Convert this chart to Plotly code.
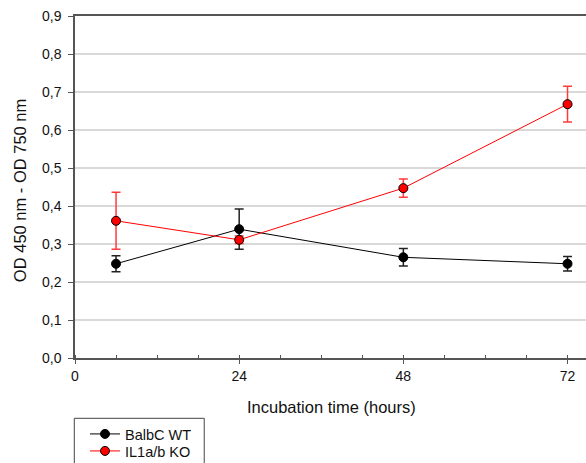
import plotly.graph_objects as go

hours = [6, 24, 48, 72]
wt_mean = [0.248, 0.339, 0.265, 0.248]
wt_err = [0.021, 0.053, 0.023, 0.019]
ko_mean = [0.361, 0.311, 0.447, 0.668]
ko_err = [0.075, 0.010, 0.024, 0.047]

x_ticks = [0, 24, 48, 72]
y_ticks = [0.0, 0.1, 0.2, 0.3, 0.4, 0.5, 0.6, 0.7, 0.8, 0.9]
x_title = "Incubation time (hours)"
y_title = "OD 450 nm - OD 750 nm"

fig = go.Figure()
fig.add_trace(go.Scatter(
    x=hours, y=wt_mean, name="BalbC WT", mode="lines+markers", legend="legend",
    line=dict(color="#000000", width=1),
    marker=dict(color="#000000", size=9, line=dict(color="#000000", width=1)),
    error_y=dict(type="data", array=wt_err, visible=True, color="#222222", thickness=1.5, width=4.5),
))
fig.add_trace(go.Scatter(
    x=hours, y=ko_mean, name="IL1a/b KO", mode="lines+markers", legend="legend2",
    line=dict(color="#ff0000", width=1),
    marker=dict(color="#ff0000", size=9, line=dict(color="#000000", width=1)),
    error_y=dict(type="data", array=ko_err, visible=True, color="#ff3b3b", thickness=1.5, width=4.5),
))

W, H = 586, 463
L, T, B, R = 74.7, 15.7, 105.3, 0
pw = W - L - R
ph = H - T - B

leg_common = dict(
    xref="container", yref="container", xanchor="left", yanchor="middle",
    bgcolor="rgba(0,0,0,0)", borderwidth=0,
    font=dict(size=14.5, color="#111111"), itemwidth=30,
)

fig.update_layout(
    width=W, height=H,
    margin=dict(l=L, r=R, t=T, b=B, pad=0, autoexpand=False),
    paper_bgcolor="white", plot_bgcolor="white",
    separators=",.",
    font=dict(family="Liberation Sans, Arial, sans-serif", size=14, color="#111111"),
    showlegend=True,
    legend=dict(x=85 / W, y=1 - 434 / H, **leg_common),
    legend2=dict(x=85 / W, y=1 - 451 / H, **leg_common),
    xaxis=dict(
        range=[0, 74.7], tickvals=x_ticks, ticktext=[str(v) for v in x_ticks],
        showgrid=False, zeroline=False, automargin=False,
        showline=True, linecolor="#555555", linewidth=1.5, mirror=True,
        ticks="outside", ticklen=4, tickcolor="#555555", tickwidth=1.2,
        minor=dict(dtick=6, tick0=0, ticks="inside", ticklen=3, tickcolor="#555555", tickwidth=1.2, showgrid=False),
        tickfont=dict(size=14),
    ),
    yaxis=dict(
        range=[0, 0.9], tickvals=y_ticks, tickformat=".1f",
        showgrid=True, gridcolor="#d9d9d9", gridwidth=1.5, zeroline=False, automargin=False,
        showline=True, linecolor="#555555", linewidth=1.5,
        ticks="outside", ticklen=5, tickcolor="#555555", tickwidth=1.2,
        ticklabelstandoff=4,
        tickfont=dict(size=14),
    ),
    annotations=[
        dict(text=x_title, xref="paper", yref="paper",
             x=(331.5 - L) / pw, y=(357.7 - 406.7) / ph, xanchor="center", yanchor="middle",
             showarrow=False, font=dict(size=16.5, color="#111111")),
        dict(text=y_title, xref="paper", yref="paper", textangle=-90,
             x=(19.5 - L) / pw, y=(357.7 - 190) / ph, xanchor="center", yanchor="middle",
             showarrow=False, font=dict(size=16.5, color="#111111")),
    ],
    shapes=[dict(
        type="rect", xref="paper", yref="paper",
        x0=(74 - L) / pw, x1=(204 - L) / pw,
        y0=(357.7 - 470) / ph, y1=(357.7 - 418) / ph,
        line=dict(color="#444444", width=1), fillcolor="rgba(0,0,0,0)", layer="above",
    )],
)

fig.write_html("out.html")
